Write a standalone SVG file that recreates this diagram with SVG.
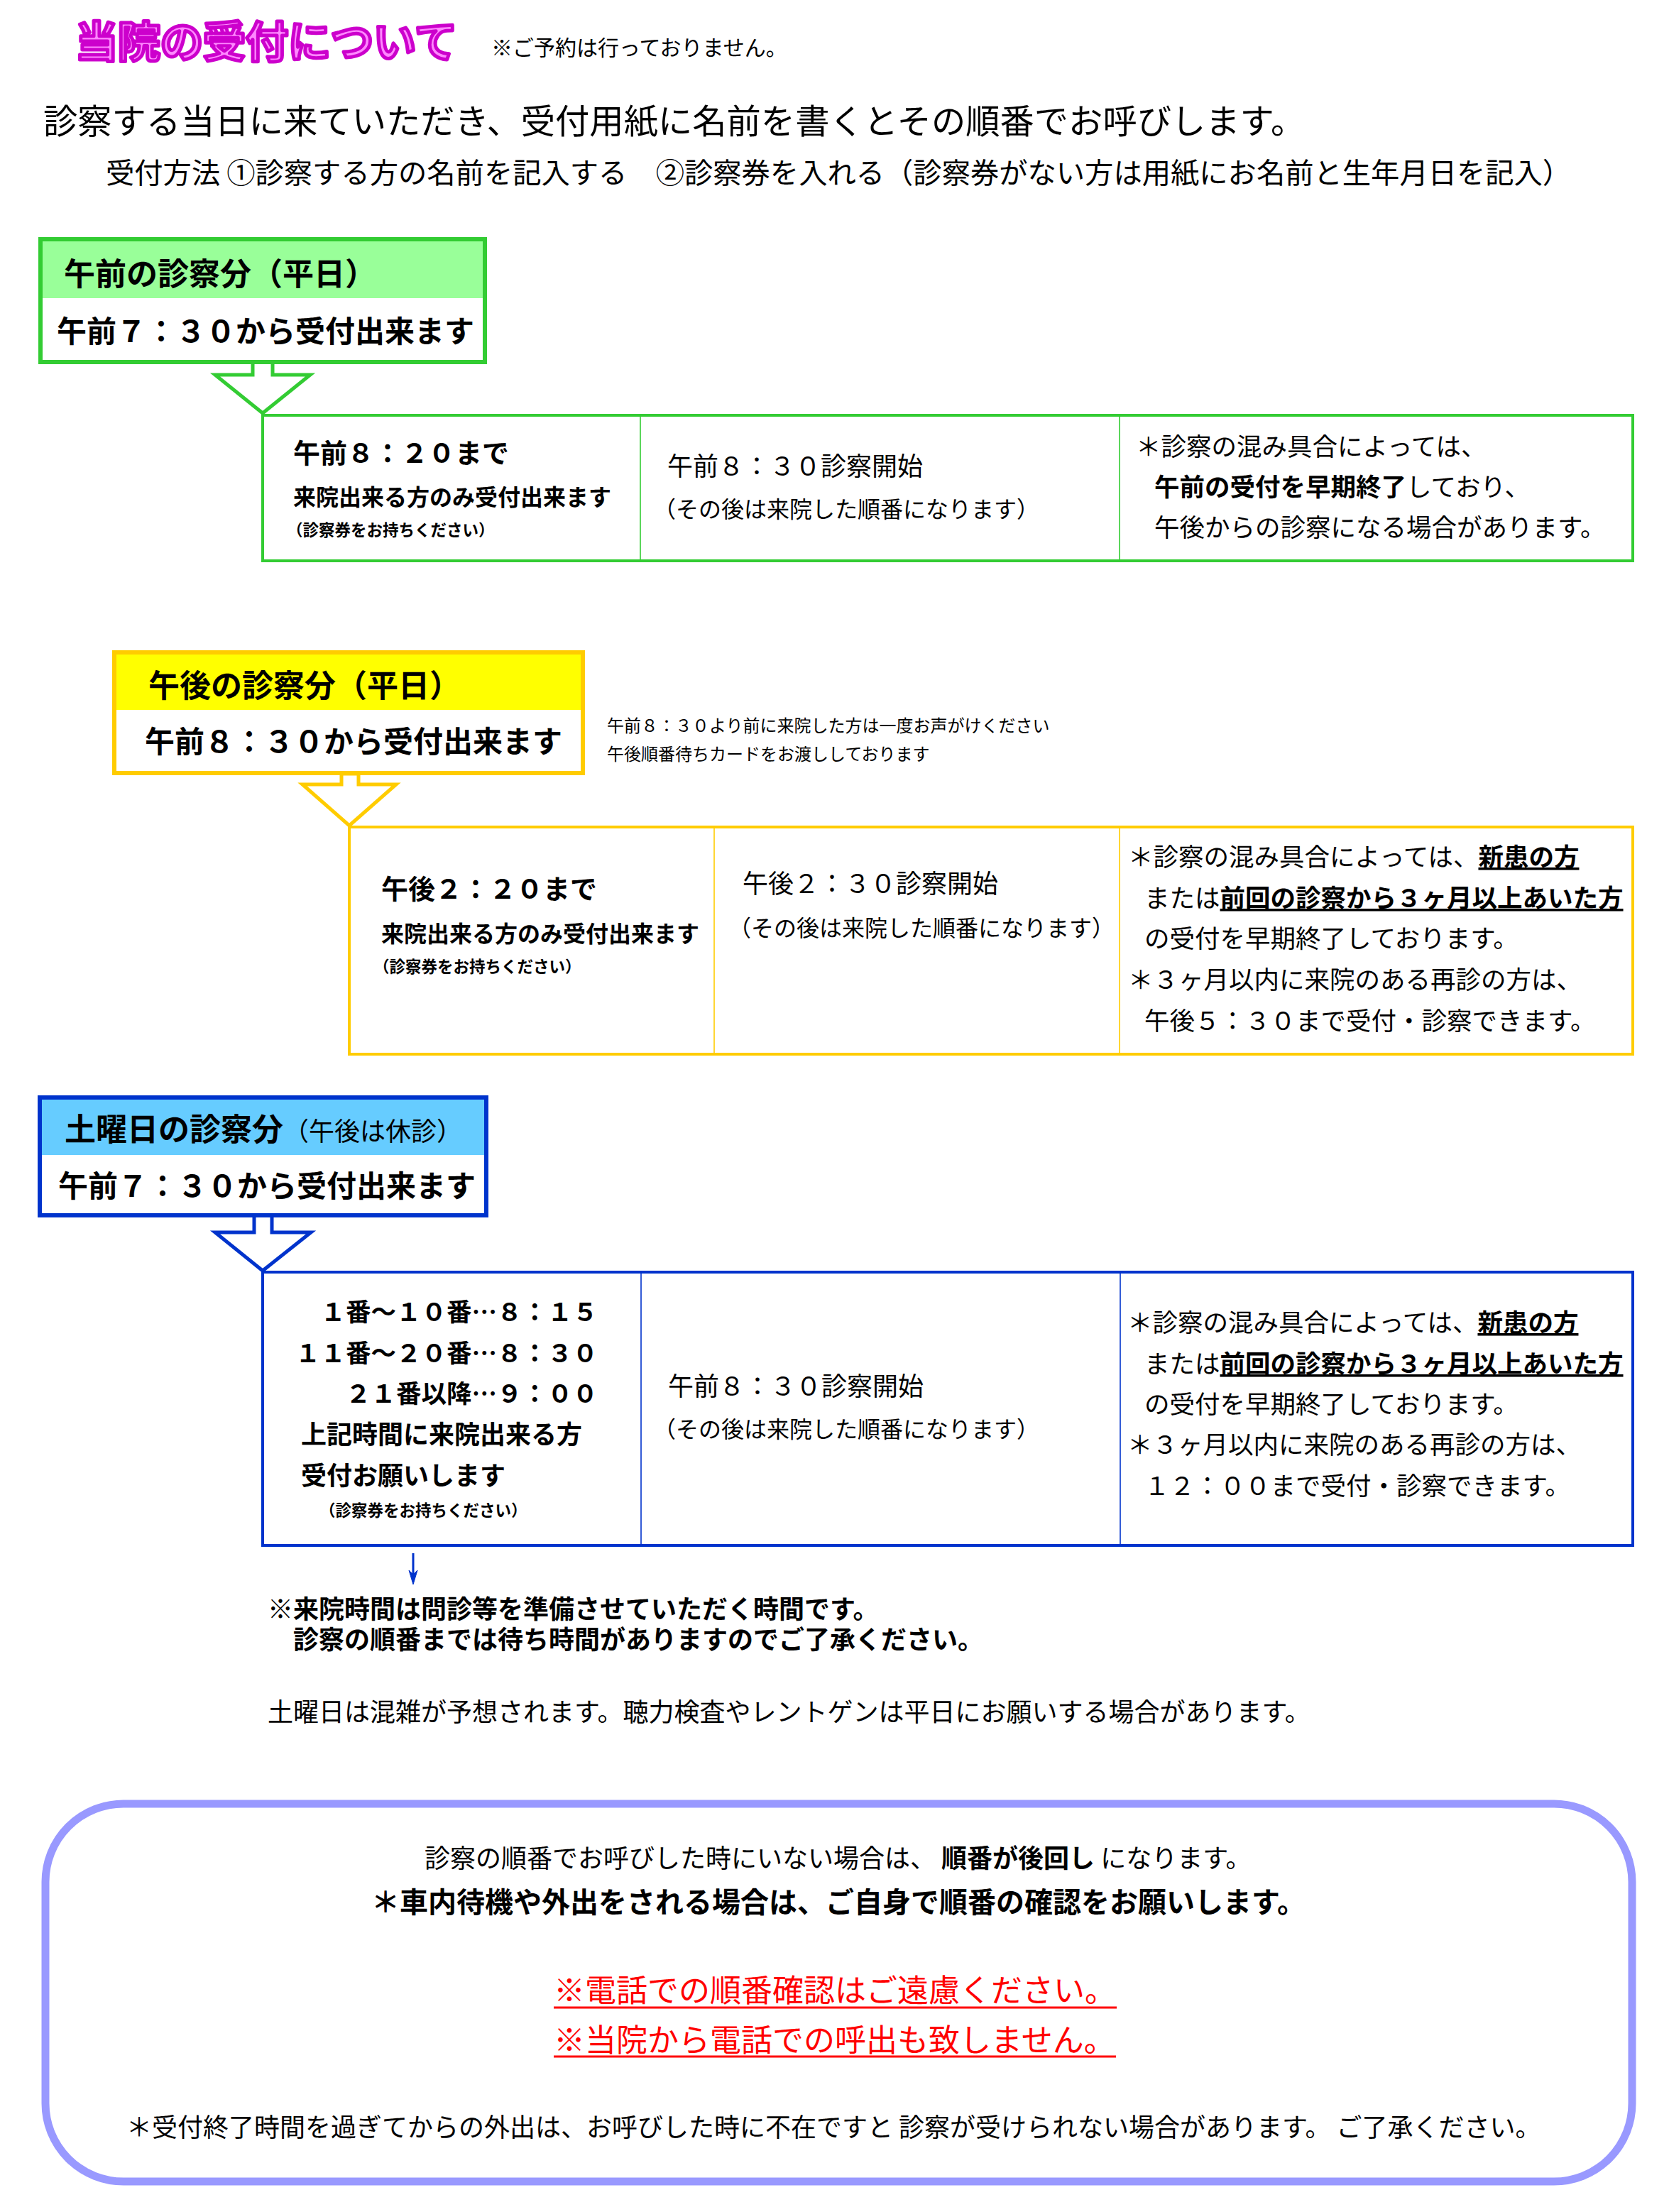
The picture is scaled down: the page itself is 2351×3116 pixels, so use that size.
<svg xmlns="http://www.w3.org/2000/svg" width="2351" height="3116" viewBox="0 0 2351 3116">
<style>
text{font-family:"Noto Sans CJK JP","Noto Sans",sans-serif;fill:#000}
.b{font-weight:bold}
.n{font-weight:normal}
.u{text-decoration:underline}
.f20{font-size:22.5px}.f24{font-size:24px}.f30{font-size:30px}.p32{font-size:32px}.f32{font-size:32px}.f35{font-size:35.5px}.f36{font-size:36px}.f38{font-size:38px}.f42{font-size:42px}.f44{font-size:44px}
.grn{stroke:#33CC33}.yel{stroke:#FFCC00}.blu{stroke:#0033CC}
.box{stroke-width:6;fill:#fff}
.tbl{stroke-width:4;fill:#fff}
.div{stroke-width:1.6}
.arr{stroke-width:5;fill:#fff;stroke-linejoin:miter}
.red{fill:#FF0000;font-size:44px}
</style>
<rect width="2351" height="3116" fill="#fff"/>

<g id="title">
<text x="106" y="81" font-size="60" font-weight="bold" style="fill:#FF88FF" stroke="#CC00CC" stroke-width="5" stroke-linejoin="round">当院の受付について</text>
<text x="692" y="78" class="f30">※ご予約は行っておりません。</text>
<text x="61" y="188" font-size="48.3">診察する当日に来ていただき、受付用紙に名前を書くとその順番でお呼びします。</text>
<text x="149" y="258" font-size="40.3">受付方法 ①診察する方の名前を記入する　②診察券を入れる（診察券がない方は用紙にお名前と生年月日を記入）</text>
</g>

<g id="connectors">
<polygon class="arr grn" points="356,510 356,528 303,528 370,582 437,528 384,528 384,510"/>
<polygon class="arr yel" points="481,1090 481,1105 426,1105 492,1163 558,1105 505,1105 505,1090"/>
<polygon class="arr blu" points="358,1712 358,1736 303,1736 370,1790 438,1736 383,1736 383,1712"/>
<line x1="582" y1="2188" x2="582" y2="2224" stroke="#0033CC" stroke-width="3"/>
<polygon points="576,2212 582,2232 588,2212 582,2218" fill="#0033CC" stroke="#0033CC" stroke-width="1"/>
</g>

<g id="am-header">
<rect x="57" y="337" width="626" height="173" class="box grn"/>
<rect x="60" y="340" width="620" height="80" fill="#99FF99"/>
<text x="90" y="402" class="b f44">午前の診察分（平日）</text>
<text x="80" y="482" class="b f42">午前７：３０から受付出来ます</text>
</g>

<g id="am-table">
<rect x="370" y="585" width="1930" height="205" class="tbl grn"/>
<line x1="902" y1="585" x2="902" y2="790" class="div grn"/>
<line x1="1577" y1="585" x2="1577" y2="790" class="div grn"/>
<text x="413" y="652" class="b f38">午前８：２０まで</text>
<text x="413" y="712" class="b f32">来院出来る方のみ受付出来ます</text>
<text x="404" y="755" class="b f20">（診察券をお持ちください）</text>
<text x="940" y="670" class="f36">午前８：３０診察開始</text>
<text x="920" y="729" class="p32">（その後は来院した順番になります）</text>
<text x="1600" y="642" class="f35">＊診察の混み具合によっては、</text>
<text x="1626" y="699" class="f35"><tspan class="b">午前の受付を早期終了</tspan>しており、</text>
<text x="1626" y="756" class="f35">午後からの診察になる場合があります。</text>
</g>

<g id="pm-header">
<rect x="161" y="919" width="660" height="170" class="box yel"/>
<rect x="164" y="922" width="654" height="78" fill="#FFFF00"/>
<text x="209" y="982" class="b f44">午後の診察分（平日）</text>
<text x="204" y="1060" class="b f42">午前８：３０から受付出来ます</text>
</g>

<g id="pm-note">
<text x="855" y="1031" class="f24">午前８：３０より前に来院した方は一度お声がけください</text>
<text x="855" y="1071" class="f24">午後順番待ちカードをお渡ししております</text>
</g>

<g id="pm-table">
<rect x="492" y="1165" width="1808" height="320" class="tbl yel"/>
<line x1="1006" y1="1165" x2="1006" y2="1485" class="div yel"/>
<line x1="1577" y1="1165" x2="1577" y2="1485" class="div yel"/>
<text x="537" y="1266" class="b f38">午後２：２０まで</text>
<text x="537" y="1327" class="b f32">来院出来る方のみ受付出来ます</text>
<text x="526" y="1370" class="b f20">（診察券をお持ちください）</text>
<text x="1046" y="1258" class="f36">午後２：３０診察開始</text>
<text x="1026" y="1319" class="p32">（その後は来院した順番になります）</text>
<text x="1589" y="1220" class="f35">＊診察の混み具合によっては、<tspan class="b u">新患の方</tspan></text>
<text x="1612" y="1278" class="f35">または<tspan class="b u">前回の診察から３ヶ月以上あいた方</tspan></text>
<text x="1612" y="1335" class="f35">の受付を早期終了しております。</text>
<text x="1589" y="1393" class="f35">＊３ヶ月以内に来院のある再診の方は、</text>
<text x="1612" y="1451" class="f35">午後５：３０まで受付・診察できます。</text>
</g>

<g id="sat-header">
<rect x="56" y="1546" width="629" height="166" class="box blu"/>
<rect x="59" y="1549" width="623" height="78" fill="#66CCFF"/>
<text x="91" y="1607" class="b f44">土曜日の診察分<tspan font-size="36" class="n">（午後は休診）</tspan></text>
<text x="82" y="1686" class="b f42">午前７：３０から受付出来ます</text>
</g>

<g id="sat-table">
<rect x="370" y="1792" width="1930" height="385" class="tbl blu"/>
<line x1="903" y1="1792" x2="903" y2="2177" class="div blu"/>
<line x1="1578" y1="1792" x2="1578" y2="2177" class="div blu"/>
<text x="842" y="1861" text-anchor="end" class="b f35">１番～１０番…８：１５</text>
<text x="842" y="1919" text-anchor="end" class="b f35">１１番～２０番…８：３０</text>
<text x="842" y="1976" text-anchor="end" class="b f35">２１番以降…９：００</text>
<text x="424" y="2034" class="b f36">上記時間に来院出来る方</text>
<text x="424" y="2092" class="b f36">受付お願いします</text>
<text x="450" y="2136" class="b f20">（診察券をお持ちください）</text>
<text x="941" y="1966" class="f36">午前８：３０診察開始</text>
<text x="920" y="2025" class="p32">（その後は来院した順番になります）</text>
<text x="1588" y="1876" class="f35">＊診察の混み具合によっては、<tspan class="b u">新患の方</tspan></text>
<text x="1612" y="1934" class="f35">または<tspan class="b u">前回の診察から３ヶ月以上あいた方</tspan></text>
<text x="1612" y="1991" class="f35">の受付を早期終了しております。</text>
<text x="1588" y="2048" class="f35">＊３ヶ月以内に来院のある再診の方は、</text>
<text x="1612" y="2106" class="f35">１２：００まで受付・診察できます。</text>
</g>

<g id="sat-notes">
<text x="377" y="2280" class="b f36">※来院時間は問診等を準備させていただく時間です。</text>
<text x="413" y="2323" class="b f36">診察の順番までは待ち時間がありますのでご了承ください。</text>
<text x="377" y="2425" class="f36">土曜日は混雑が予想されます。聴力検査やレントゲンは平日にお願いする場合があります。</text>
</g>

<g id="notice">
<rect x="64" y="2541" width="2235" height="532" rx="110" ry="110" fill="#fff" stroke="#9999FF" stroke-width="11"/>
<text x="598" y="2631" class="f36">診察の順番でお呼びした時にいない場合は、 <tspan class="b">順番が後回し</tspan> になります。</text>
<text x="523" y="2694" class="b" font-size="40">＊車内待機や外出をされる場合は、ご自身で順番の確認をお願いします。</text>
<text x="780" y="2820" class="red">※電話での順番確認はご遠慮ください。</text>
<line x1="780" y1="2828" x2="1573" y2="2828" stroke="#FF0000" stroke-width="3"/>
<text x="780" y="2890" class="red">※当院から電話での呼出も致しません。</text>
<line x1="780" y1="2897" x2="1572" y2="2897" stroke="#FF0000" stroke-width="3"/>
<text x="178" y="3010" class="f36">＊受付終了時間を過ぎてからの外出は、お呼びした時に不在ですと 診察が受けられない場合があります。 ご了承ください。</text>
</g>
</svg>
